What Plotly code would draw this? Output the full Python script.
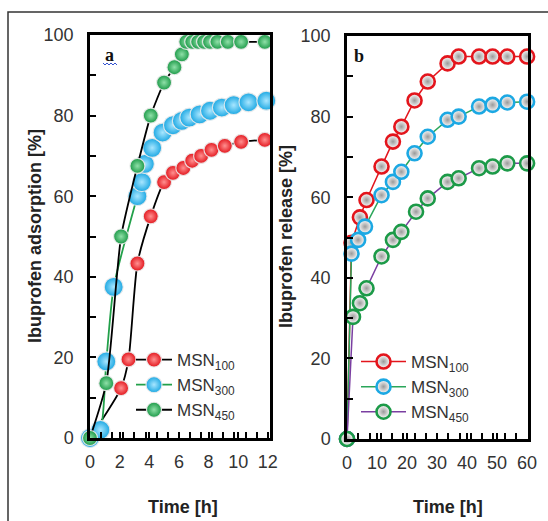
import plotly.graph_objects as go

W, H = 548, 521

# ---------------- data: panel a (adsorption) ----------------
ads_time_100 = [0, 2.1, 2.6, 3.2, 4.1, 5.0, 5.6, 6.3, 6.9, 7.5, 8.2, 9.1, 10.2, 11.8]
ads_val_100 = [0, 12.4, 19.5, 43.3, 55.0, 63.5, 65.8, 67.0, 68.8, 70.0, 71.5, 72.5, 73.5, 74.0]

ads_time_300 = [0, 0.7, 1.1, 1.6, 3.2, 3.5, 3.7, 4.2, 4.9, 5.6, 6.2, 6.7, 7.4, 8.1, 8.9, 9.7, 10.7, 11.9]
ads_val_300 = [0, 2.0, 19.0, 37.5, 60.0, 63.5, 68.0, 72.0, 75.8, 77.6, 78.7, 79.5, 80.3, 81.2, 82.0, 82.6, 83.3, 83.7]

ads_time_450 = [0, 1.1, 2.1, 3.2, 4.1, 5.0, 5.7, 6.2, 6.5, 6.9, 7.3, 7.7, 8.1, 8.6, 9.3, 10.2, 11.8]
ads_val_450 = [0, 13.6, 50.0, 67.5, 80.0, 88.2, 92.0, 95.2, 98.3, 98.3, 98.3, 98.3, 98.3, 98.3, 98.3, 98.3, 98.3]

# ---------------- data: panel b (release) ----------------
rel_time_100 = [0, 1.5, 4.3, 6.5, 11.5, 15.3, 18.1, 22.5, 26.9, 33.5, 37.2, 44, 48.5, 53.4, 60]
rel_val_100 = [0, 48.7, 55.0, 59.3, 67.6, 73.8, 77.5, 84.0, 88.7, 93.2, 94.9, 94.9, 94.9, 94.9, 94.9]

rel_time_300 = [0, 1.5, 3.7, 6.0, 11.5, 15.3, 18.1, 22.5, 26.9, 33.5, 37.2, 44, 48.5, 53.4, 60]
rel_val_300 = [0, 46.0, 49.4, 52.7, 60.5, 63.8, 66.3, 70.9, 75.0, 79.2, 80.0, 82.5, 82.9, 83.5, 83.7]

rel_time_450 = [0, 2.0, 4.3, 6.5, 11.5, 15.3, 18.1, 23.0, 26.9, 33.5, 37.2, 44, 48.5, 53.4, 60]
rel_val_450 = [0, 30.3, 33.7, 37.4, 45.3, 49.4, 51.4, 56.4, 59.7, 63.8, 64.7, 67.2, 67.6, 68.4, 68.4]

series_names = ["MSN<sub>100</sub>", "MSN<sub>300</sub>", "MSN<sub>450</sub>"]

# tick positions (every 10 %, labelled every 20 %) and labels
y_tickvals = [0, 10, 20, 30, 40, 50, 60, 70, 80, 90, 100]
y_ticktext = ["0", "", "20", "", "40", "", "60", "", "80", "", "100"]
xa_tickvals = [0, 0.75, 1.5, 2, 2.25, 3, 3.75, 4, 4.5, 5.25, 6, 6.75, 7.5, 8, 8.25, 9, 9.75, 10, 10.5, 11.25, 12]
xa_labelled = [0, 2, 4, 6, 8, 10, 12]
xb_tickvals = [0, 3.75, 7.5, 10, 11.25, 15, 18.75, 20, 22.5, 26.25, 30, 33.75, 37.5, 40, 41.25, 45, 48.75, 50, 52.5, 56.25, 60]
xb_labelled = [0, 10, 20, 30, 40, 50, 60]

# ---------------- styles ----------------
RED, BLUE, GREEN = "#e3151c", "#1ca8e3", "#1c9a48"
FONT = "Arial, Liberation Sans, sans-serif"


def px(x):
    return x / W


def py(y):
    return 1 - y / H


def labels(vals, labelled):
    return [f"{v:g}" if v in labelled else "" for v in vals]


fig = go.Figure()

# panel a : shaded spheres
sphere_specs = [
    (ads_time_100, ads_val_100, series_names[0], "black", RED, "#ff9090", 15),
    (ads_time_300, ads_val_300, series_names[1], "#22a04a", BLUE, "#a8e6ff", 19),
    (ads_time_450, ads_val_450, series_names[2], "black", GREEN, "#8fe0a8", 15),
]
for t, v, name, lc, mc, gc, size in sphere_specs:
    fig.add_trace(go.Scatter(
        x=t, y=v, name=name, mode="lines+markers",
        line=dict(color=lc, width=1.8, shape="spline", smoothing=0.6),
        marker=dict(size=size, color=mc,
                    gradient=dict(type="radial", color=gc),
                    line=dict(color="rgba(235,235,235,0.9)", width=1.2)),
        xaxis="x", yaxis="y", legend="legend", cliponaxis=False,
    ))

# panel b : open circles
ring_specs = [
    (rel_time_100, rel_val_100, series_names[0], RED, RED),
    (rel_time_300, rel_val_300, series_names[1], "#2aa65a", BLUE),
    (rel_time_450, rel_val_450, series_names[2], "#7a3ea1", GREEN),
]
for t, v, name, lc, rc in ring_specs:
    fig.add_trace(go.Scatter(
        x=t, y=v, name=name, mode="lines+markers",
        line=dict(color=lc, width=1.5),
        marker=dict(size=14, color="white",
                    gradient=dict(type="radial", color="#9a9a9a"),
                    line=dict(color=rc, width=2.6)),
        xaxis="x2", yaxis="y2", legend="legend2", cliponaxis=False,
    ))

axis_common = dict(
    showgrid=False, zeroline=False, showline=True, linecolor="black", linewidth=2.5,
    mirror=True, ticks="inside", ticklen=6, tickwidth=2, tickcolor="black",
    automargin=False, tickmode="array", layer="above traces",
    tickfont=dict(family=FONT, size=18, color="#333"),
)

fig.update_layout(
    template="none",
    width=W, height=H,
    margin=dict(l=0, r=0, t=0, b=0, pad=0),
    paper_bgcolor="white", plot_bgcolor="white",
    font=dict(family=FONT, color="#333"),
    xaxis=dict(domain=[px(90), px(270)], range=[0, 12.15], anchor="y",
               tickvals=xa_tickvals, ticktext=labels(xa_tickvals, xa_labelled),
               ticklabelstandoff=6, **axis_common),
    yaxis=dict(domain=[py(438), py(35)], range=[0, 100], anchor="x",
               tickvals=y_tickvals, ticktext=y_ticktext,
               ticklabelstandoff=10, **axis_common),
    xaxis2=dict(domain=[px(347), px(528)], range=[0, 60.3], anchor="y2",
                tickvals=xb_tickvals, ticktext=labels(xb_tickvals, xb_labelled),
                ticklabelstandoff=6, **axis_common),
    yaxis2=dict(domain=[py(439), py(36)], range=[0, 100], anchor="x2",
                tickvals=y_tickvals, ticktext=y_ticktext,
                ticklabelstandoff=10, **axis_common),
    legend=dict(x=px(131), y=py(342), xanchor="left", yanchor="top",
                bgcolor="rgba(0,0,0,0)", font=dict(family=FONT, size=17, color="#333"),
                tracegroupgap=0, itemwidth=36),
    legend2=dict(x=px(356), y=py(344), xanchor="left", yanchor="top",
                 bgcolor="rgba(0,0,0,0)", font=dict(family=FONT, size=17, color="#333"),
                 tracegroupgap=0, itemwidth=45),
    showlegend=True,
)

annotations = [
    dict(text="<b>Ibuprofen adsorption [%]</b>", x=px(35), y=py(236), textangle=-90,
         font=dict(family=FONT, size=18, color="#222")),
    dict(text="<b>Ibuprofen release [%]</b>", x=px(286), y=py(237), textangle=-90,
         font=dict(family=FONT, size=18, color="#222")),
    dict(text="<b>Time [h]</b>", x=px(183), y=py(507), font=dict(family=FONT, size=18, color="#222")),
    dict(text="<b>Time [h]</b>", x=px(448), y=py(507), font=dict(family=FONT, size=18, color="#222")),
    dict(text="<b>a</b>", x=px(109), y=py(55), font=dict(family="Liberation Serif, Times New Roman, serif", size=18, color="#111")),
    dict(text="<b>b</b>", x=px(359), y=py(56), font=dict(family="Liberation Serif, Times New Roman, serif", size=18, color="#111")),
]
for a in annotations:
    a.update(xref="paper", yref="paper", showarrow=False, xanchor="center", yanchor="middle")
fig.update_layout(annotations=annotations)

# wavy spell-check underline under "a"
pts = []
for i in range(8):
    xx = 103 + i * 2
    yy = 63 if i % 2 == 0 else 65
    pts.append(f"{px(xx):.5f},{py(yy):.5f}")
wave = "M " + " L ".join(pts)

fig.update_layout(shapes=[
    dict(type="rect", xref="paper", yref="paper", x0=px(8), y0=py(12), x1=1.02, y1=-0.02,
         line=dict(color="#333", width=1.5), fillcolor="rgba(0,0,0,0)", layer="below"),
    dict(type="path", xref="paper", yref="paper", path=wave,
         line=dict(color="#3050d0", width=1)),
])

fig.write_html("out.html", config={"displayModeBar": False})

# remove default page margin so the figure sits at the window origin
with open("out.html", encoding="utf-8") as f:
    html = f.read()
html = html.replace("<head>", "<head><style>html,body{margin:0;padding:0;overflow:hidden}</style>", 1)
with open("out.html", "w", encoding="utf-8") as f:
    f.write(html)
